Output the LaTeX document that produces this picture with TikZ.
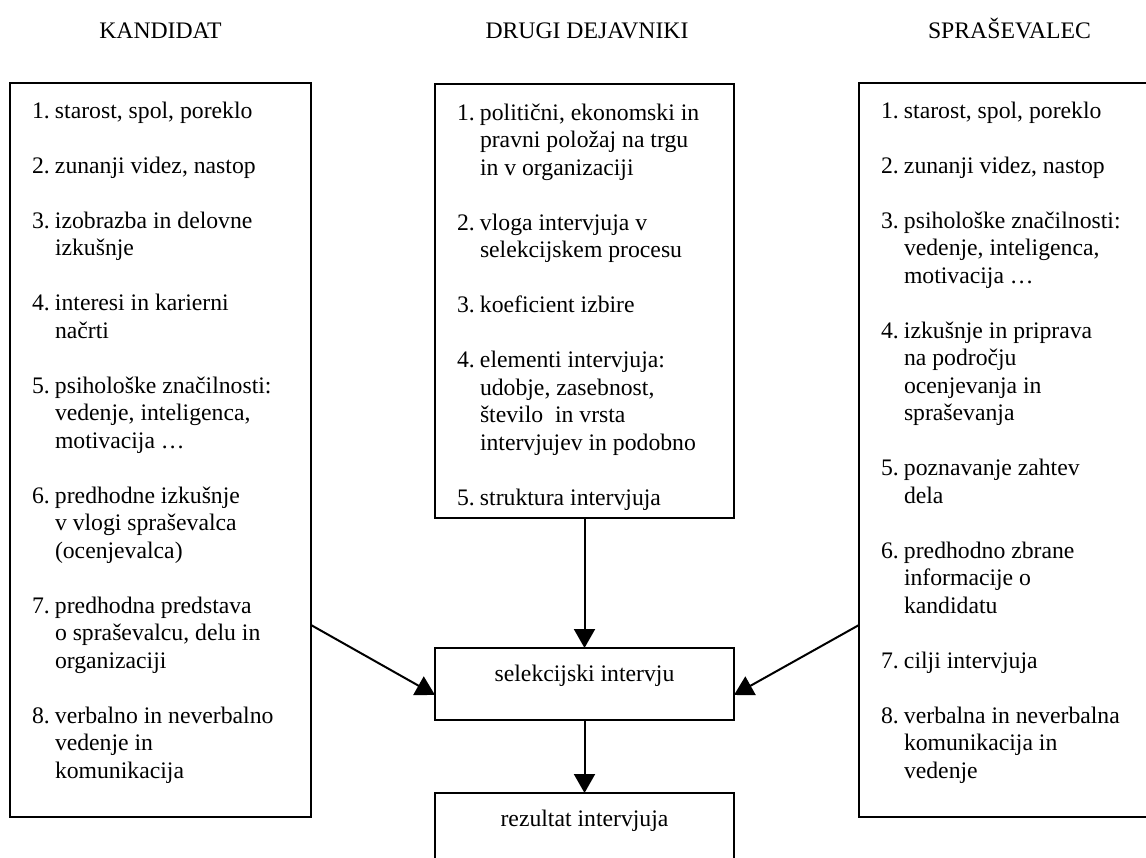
\documentclass[tikz,border=0pt]{standalone}
\usepackage{fontspec}
\setmainfont{Liberation Serif}
\usetikzlibrary{arrows.meta}
\begin{document}
\begin{tikzpicture}[x=1pt,y=-1pt,
  every node/.style={font=\fontsize{23.7}{27.5}\selectfont, inner sep=0pt, outer sep=0pt},
  boxs/.style={draw, line width=2pt, anchor=north west, minimum width=301pt},
  listtext/.style={anchor=north west, align=left},
  titletext/.style={anchor=base},
  lbl/.style={anchor=base},
  arr/.style={line width=2pt, -{Triangle[width=21pt,length=19pt]}}
]
\useasboundingbox (0,0) rectangle (1146,858);
\clip (0,0) rectangle (1146,858);

% titles
\node[titletext] (t1) at (160.5,39) {KANDIDAT};
\node[titletext] (t2) at (587,39) {DRUGI DEJAVNIKI};
\node[titletext] (t3) at (1009.5,39) {SPRAŠEVALEC};

% big boxes
\node[boxs, minimum height=734pt] (kand) at (10,83) {};
\node[boxs, minimum width=299pt, minimum height=434pt] (drugi) at (435,84) {};
\node[boxs, minimum height=734pt] (spra) at (859,83) {};

% small boxes
\node[boxs, minimum width=299pt, minimum height=72pt] (sel) at (435,648) {};
\node[boxs, minimum width=299pt, minimum height=90pt] (rez) at (435,793) {};

\node[lbl] (selt) at ([yshift=-33pt]sel.north) {selekcijski intervju};
\node[lbl] (rezt) at ([yshift=-33pt]rez.north) {rezultat intervjuja};

% list texts
\node[listtext] (kandt) at ([xshift=22pt,yshift=-16pt]kand.north west) {%
\begin{tabular}{@{}p{23pt}@{}l@{}}
1. & starost, spol, poreklo\\
&\\
2. & zunanji videz, nastop\\
&\\
3. & izobrazba in delovne\\
& izkušnje\\
&\\
4. & interesi in karierni\\
& načrti\\
&\\
5. & psihološke značilnosti:\\
& vedenje, inteligenca,\\
& motivacija …\\
&\\
6. & predhodne izkušnje\\
& v vlogi spraševalca\\
& (ocenjevalca)\\
&\\
7. & predhodna predstava\\
& o spraševalcu, delu in\\
& organizaciji\\
&\\
8. & verbalno in neverbalno\\
& vedenje in\\
& komunikacija
\end{tabular}};

\node[listtext] (drugit) at ([xshift=22pt,yshift=-17pt]drugi.north west) {%
\begin{tabular}{@{}p{23pt}@{}l@{}}
1. & politični, ekonomski in\\
& pravni položaj na trgu\\
& in v organizaciji\\
&\\
2. & vloga intervjuja v\\
& selekcijskem procesu\\
&\\
3. & koeficient izbire\\
&\\
4. & elementi intervjuja:\\
& udobje, zasebnost,\\
& število\ \ in vrsta\\
& intervjujev in podobno\\
&\\
5. & struktura intervjuja
\end{tabular}};

\node[listtext] (sprat) at ([xshift=22pt,yshift=-16pt]spra.north west) {%
\begin{tabular}{@{}p{23pt}@{}l@{}}
1. & starost, spol, poreklo\\
&\\
2. & zunanji videz, nastop\\
&\\
3. & psihološke značilnosti:\\
& vedenje, inteligenca,\\
& motivacija …\\
&\\
4. & izkušnje in priprava\\
& na področju\\
& ocenjevanja in\\
& spraševanja\\
&\\
5. & poznavanje zahtev\\
& dela\\
&\\
6. & predhodno zbrane\\
& informacije o\\
& kandidatu\\
&\\
7. & cilji intervjuja\\
&\\
8. & verbalna in neverbalna\\
& komunikacija in\\
& vedenje
\end{tabular}};

% connectors
\draw[arr] (drugi.south) -- (sel.north);
\draw[arr] (sel.south) -- (rez.north);
\draw[arr] ([yshift=-542pt]kand.north east) -- ([yshift=-11pt]sel.west);
\draw[arr] ([yshift=-542pt]spra.north west) -- ([yshift=-11pt]sel.east);
\end{tikzpicture}
\end{document}
